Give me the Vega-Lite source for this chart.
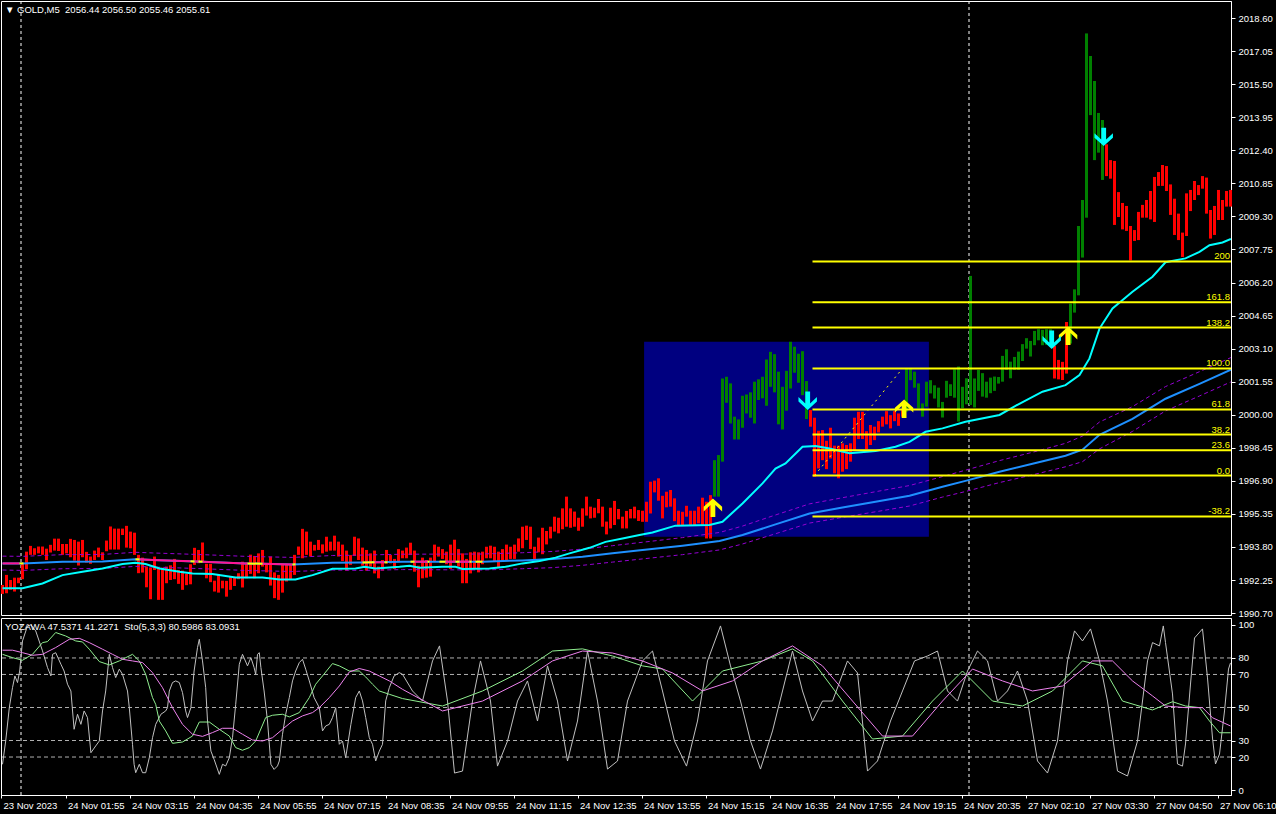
{
"$schema":"https://vega.github.io/schema/vega-lite/v6.json",
"background":"#000000",
"padding":{"left":0,"top":0,"right":46,"bottom":20},
"spacing":3,
"bounds":"flush",
"config":{"view":{"stroke":"#FFFFFF","strokeWidth":1},"font":"Liberation Sans","axis":{"labelFont":"Liberation Sans","labelColor":"#FFFFFF","labelFontSize":9.5,"domainColor":"#FFFFFF","tickColor":"#FFFFFF","grid":false}},
"datasets":{
"bars":[
{"i":0,"lo":1991.6,"hi":1992.02,"d":"dn"},{"i":1,"lo":1991.63,"hi":1992.49,"d":"dn"},{"i":2,"lo":1991.79,"hi":1992.25,"d":"dn"},{"i":3,"lo":1991.71,"hi":1992.36,"d":"dn"},{"i":4,"lo":1992.1,"hi":1992.36,"d":"dn"},{"i":5,"lo":1992.29,"hi":1993.04,"d":"dn"},{"i":6,"lo":1992.76,"hi":1993.58,"d":"dn"},{"i":7,"lo":1993.43,"hi":1993.85,"d":"dn"},{"i":8,"lo":1993.43,"hi":1993.74,"d":"dn"},{"i":9,"lo":1993.5,"hi":1993.82,"d":"dn"},
{"i":10,"lo":1993.43,"hi":1993.82,"d":"dn"},{"i":11,"lo":1993.19,"hi":1993.72,"d":"dn"},{"i":12,"lo":1993.54,"hi":1993.9,"d":"dn"},{"i":13,"lo":1993.63,"hi":1994.19,"d":"dn"},{"i":14,"lo":1993.61,"hi":1994.19,"d":"dn"},{"i":15,"lo":1993.43,"hi":1993.94,"d":"dn"},{"i":16,"lo":1993.5,"hi":1993.94,"d":"dn"},{"i":17,"lo":1993.32,"hi":1994.18,"d":"dn"},{"i":18,"lo":1993.16,"hi":1994.13,"d":"dn"},{"i":19,"lo":1992.93,"hi":1994.05,"d":"dn"},
{"i":20,"lo":1993.32,"hi":1994.13,"d":"dn"},{"i":21,"lo":1993.07,"hi":1993.57,"d":"dn"},{"i":22,"lo":1993.01,"hi":1993.35,"d":"dn"},{"i":23,"lo":1993.19,"hi":1993.63,"d":"dn"},{"i":24,"lo":1993.32,"hi":1993.77,"d":"dn"},{"i":25,"lo":1993.19,"hi":1993.55,"d":"dn"},{"i":26,"lo":1993.6,"hi":1994.1,"d":"dn"},{"i":27,"lo":1993.68,"hi":1994.76,"d":"dn"},{"i":28,"lo":1993.68,"hi":1994.66,"d":"dn"},{"i":29,"lo":1993.68,"hi":1994.66,"d":"dn"},
{"i":30,"lo":1994.36,"hi":1994.66,"d":"dn"},{"i":31,"lo":1993.77,"hi":1994.79,"d":"dn"},{"i":32,"lo":1993.74,"hi":1994.52,"d":"dn"},{"i":33,"lo":1993.43,"hi":1994.47,"d":"dn"},{"i":34,"lo":1992.57,"hi":1993.43,"d":"dn"},{"i":35,"lo":1992.6,"hi":1993.3,"d":"dn"},{"i":36,"lo":1991.91,"hi":1992.88,"d":"dn"},{"i":37,"lo":1991.35,"hi":1992.83,"d":"dn"},{"i":38,"lo":1992.72,"hi":1993.35,"d":"dn"},{"i":39,"lo":1991.32,"hi":1992.8,"d":"dn"},
{"i":40,"lo":1991.32,"hi":1992.83,"d":"dn"},{"i":41,"lo":1992.1,"hi":1992.88,"d":"dn"},{"i":42,"lo":1992.25,"hi":1992.94,"d":"dn"},{"i":43,"lo":1992.29,"hi":1993.24,"d":"dn"},{"i":44,"lo":1992.07,"hi":1992.72,"d":"dn"},{"i":45,"lo":1991.79,"hi":1992.69,"d":"dn"},{"i":46,"lo":1992.01,"hi":1992.54,"d":"dn"},{"i":47,"lo":1992.05,"hi":1992.99,"d":"dn"},{"i":48,"lo":1992.96,"hi":1993.76,"d":"dn"},{"i":49,"lo":1993.04,"hi":1993.66,"d":"dn"},
{"i":50,"lo":1993.12,"hi":1994.01,"d":"dn"},{"i":51,"lo":1992.33,"hi":1993.01,"d":"dn"},{"i":52,"lo":1992.15,"hi":1993.01,"d":"dn"},{"i":53,"lo":1991.71,"hi":1992.22,"d":"dn"},{"i":54,"lo":1991.66,"hi":1992.49,"d":"dn"},{"i":55,"lo":1991.86,"hi":1992.22,"d":"dn"},{"i":56,"lo":1991.47,"hi":1992.21,"d":"dn"},{"i":57,"lo":1991.79,"hi":1992.41,"d":"dn"},{"i":58,"lo":1991.97,"hi":1992.38,"d":"dn"},{"i":59,"lo":1992.29,"hi":1992.57,"d":"dn"},
{"i":60,"lo":1991.9,"hi":1993.11,"d":"dn"},{"i":61,"lo":1992.33,"hi":1993.07,"d":"dn"},{"i":62,"lo":1992.54,"hi":1993.44,"d":"dn"},{"i":63,"lo":1992.33,"hi":1993.38,"d":"dn"},{"i":64,"lo":1992.57,"hi":1993.5,"d":"dn"},{"i":65,"lo":1992.88,"hi":1993.66,"d":"dn"},{"i":66,"lo":1992.61,"hi":1993.01,"d":"dn"},{"i":67,"lo":1991.99,"hi":1993.35,"d":"dn"},{"i":68,"lo":1991.4,"hi":1992.61,"d":"dn"},{"i":69,"lo":1991.32,"hi":1992.49,"d":"dn"},
{"i":70,"lo":1991.66,"hi":1993.01,"d":"dn"},{"i":71,"lo":1992.18,"hi":1993.01,"d":"dn"},{"i":72,"lo":1992.29,"hi":1993.01,"d":"dn"},{"i":73,"lo":1992.49,"hi":1993.43,"d":"dn"},{"i":74,"lo":1993.43,"hi":1993.82,"d":"dn"},{"i":75,"lo":1993.27,"hi":1994.65,"d":"dn"},{"i":76,"lo":1993.43,"hi":1994.52,"d":"dn"},{"i":77,"lo":1993.35,"hi":1994.05,"d":"dn"},{"i":78,"lo":1993.63,"hi":1993.9,"d":"dn"},{"i":79,"lo":1993.66,"hi":1994.13,"d":"dn"},
{"i":80,"lo":1993.5,"hi":1993.92,"d":"dn"},{"i":81,"lo":1993.58,"hi":1994.28,"d":"dn"},{"i":82,"lo":1993.63,"hi":1994.05,"d":"dn"},{"i":83,"lo":1993.63,"hi":1994.33,"d":"dn"},{"i":84,"lo":1993.35,"hi":1994.05,"d":"dn"},{"i":85,"lo":1993.14,"hi":1993.91,"d":"dn"},{"i":86,"lo":1992.69,"hi":1993.63,"d":"dn"},{"i":87,"lo":1992.96,"hi":1993.42,"d":"dn"},{"i":88,"lo":1993.38,"hi":1994.28,"d":"dn"},{"i":89,"lo":1993.19,"hi":1994.2,"d":"dn"},
{"i":90,"lo":1992.92,"hi":1993.77,"d":"dn"},{"i":91,"lo":1992.69,"hi":1993.66,"d":"dn"},{"i":92,"lo":1992.88,"hi":1993.5,"d":"dn"},{"i":93,"lo":1992.56,"hi":1993.63,"d":"dn"},{"i":94,"lo":1992.33,"hi":1992.88,"d":"dn"},{"i":95,"lo":1992.69,"hi":1993.19,"d":"dn"},{"i":96,"lo":1993.03,"hi":1993.66,"d":"dn"},{"i":97,"lo":1993.03,"hi":1993.42,"d":"dn"},{"i":98,"lo":1992.77,"hi":1993.24,"d":"dn"},{"i":99,"lo":1993.14,"hi":1993.7,"d":"dn"},
{"i":100,"lo":1993.27,"hi":1993.63,"d":"dn"},{"i":101,"lo":1993.27,"hi":1993.77,"d":"dn"},{"i":102,"lo":1993.42,"hi":1994.0,"d":"dn"},{"i":103,"lo":1992.64,"hi":1993.63,"d":"dn"},{"i":104,"lo":1991.91,"hi":1992.92,"d":"dn"},{"i":105,"lo":1992.33,"hi":1993.3,"d":"dn"},{"i":106,"lo":1992.36,"hi":1993.19,"d":"dn"},{"i":107,"lo":1992.41,"hi":1993.3,"d":"dn"},{"i":108,"lo":1993.14,"hi":1993.91,"d":"dn"},{"i":109,"lo":1993.35,"hi":1993.81,"d":"dn"},
{"i":110,"lo":1993.24,"hi":1993.7,"d":"dn"},{"i":111,"lo":1992.99,"hi":1993.58,"d":"dn"},{"i":112,"lo":1992.77,"hi":1993.91,"d":"dn"},{"i":113,"lo":1993.14,"hi":1994.14,"d":"dn"},{"i":114,"lo":1992.88,"hi":1993.7,"d":"dn"},{"i":115,"lo":1992.1,"hi":1993.5,"d":"dn"},{"i":116,"lo":1992.1,"hi":1993.24,"d":"dn"},{"i":117,"lo":1992.56,"hi":1993.55,"d":"dn"},{"i":118,"lo":1992.77,"hi":1993.58,"d":"dn"},{"i":119,"lo":1992.61,"hi":1993.55,"d":"dn"},
{"i":120,"lo":1992.99,"hi":1993.58,"d":"dn"},{"i":121,"lo":1993.27,"hi":1993.81,"d":"dn"},{"i":122,"lo":1993.27,"hi":1993.86,"d":"dn"},{"i":123,"lo":1993.11,"hi":1993.81,"d":"dn"},{"i":124,"lo":1992.85,"hi":1993.58,"d":"dn"},{"i":125,"lo":1993.11,"hi":1993.7,"d":"dn"},{"i":126,"lo":1993.14,"hi":1993.91,"d":"dn"},{"i":127,"lo":1993.24,"hi":1993.81,"d":"dn"},{"i":128,"lo":1993.24,"hi":1993.91,"d":"dn"},{"i":129,"lo":1993.58,"hi":1994.2,"d":"dn"},
{"i":130,"lo":1993.74,"hi":1994.75,"d":"dn"},{"i":131,"lo":1994.13,"hi":1994.8,"d":"dn"},{"i":132,"lo":1993.7,"hi":1994.75,"d":"dn"},{"i":133,"lo":1993.24,"hi":1993.81,"d":"dn"},{"i":134,"lo":1993.55,"hi":1994.24,"d":"dn"},{"i":135,"lo":1993.46,"hi":1994.7,"d":"dn"},{"i":136,"lo":1993.92,"hi":1994.55,"d":"dn"},{"i":137,"lo":1994.2,"hi":1994.75,"d":"dn"},{"i":138,"lo":1994.52,"hi":1995.22,"d":"dn"},{"i":139,"lo":1994.44,"hi":1995.17,"d":"dn"},
{"i":140,"lo":1994.63,"hi":1995.61,"d":"dn"},{"i":141,"lo":1994.75,"hi":1996.16,"d":"dn"},{"i":142,"lo":1994.7,"hi":1995.61,"d":"dn"},{"i":143,"lo":1994.75,"hi":1995.46,"d":"dn"},{"i":144,"lo":1994.56,"hi":1995.17,"d":"dn"},{"i":145,"lo":1994.75,"hi":1995.61,"d":"dn"},{"i":146,"lo":1995.27,"hi":1996.16,"d":"dn"},{"i":147,"lo":1995.14,"hi":1995.69,"d":"dn"},{"i":148,"lo":1995.17,"hi":1995.64,"d":"dn"},{"i":149,"lo":1995.38,"hi":1996.05,"d":"dn"},
{"i":150,"lo":1994.75,"hi":1995.69,"d":"dn"},{"i":151,"lo":1994.39,"hi":1994.99,"d":"dn"},{"i":152,"lo":1994.67,"hi":1995.64,"d":"dn"},{"i":153,"lo":1994.83,"hi":1995.96,"d":"dn"},{"i":154,"lo":1995.1,"hi":1995.58,"d":"dn"},{"i":155,"lo":1994.67,"hi":1995.22,"d":"dn"},{"i":156,"lo":1994.67,"hi":1995.49,"d":"dn"},{"i":157,"lo":1995.14,"hi":1995.58,"d":"dn"},{"i":158,"lo":1995.14,"hi":1995.69,"d":"dn"},{"i":159,"lo":1995.02,"hi":1995.53,"d":"dn"},
{"i":160,"lo":1994.98,"hi":1995.5,"d":"dn"},{"i":161,"lo":1994.98,"hi":1995.92,"d":"dn"},{"i":162,"lo":1995.37,"hi":1996.86,"d":"dn"},{"i":163,"lo":1996.36,"hi":1996.91,"d":"dn"},{"i":164,"lo":1995.97,"hi":1997.02,"d":"dn"},{"i":165,"lo":1995.14,"hi":1996.2,"d":"dn"},{"i":166,"lo":1995.66,"hi":1996.39,"d":"dn"},{"i":167,"lo":1995.69,"hi":1996.47,"d":"dn"},{"i":168,"lo":1995.01,"hi":1996.08,"d":"dn"},{"i":169,"lo":1994.8,"hi":1995.5,"d":"dn"},
{"i":170,"lo":1994.83,"hi":1995.45,"d":"dn"},{"i":171,"lo":1995.22,"hi":1995.73,"d":"dn"},{"i":172,"lo":1994.83,"hi":1995.5,"d":"dn"},{"i":173,"lo":1994.83,"hi":1995.5,"d":"dn"},{"i":174,"lo":1994.91,"hi":1995.69,"d":"dn"},{"i":175,"lo":1994.83,"hi":1996.11,"d":"dn"},{"i":176,"lo":1994.2,"hi":1995.92,"d":"dn"},{"i":177,"lo":1994.2,"hi":1996.23,"d":"dn"},{"i":178,"lo":1996.16,"hi":1997.87,"d":"up"},{"i":179,"lo":1996.16,"hi":1998.11,"d":"up"},
{"i":180,"lo":1997.8,"hi":2001.7,"d":"up"},{"i":181,"lo":2000.56,"hi":2001.78,"d":"up"},{"i":182,"lo":1999.59,"hi":2001.47,"d":"up"},{"i":183,"lo":1998.84,"hi":1999.91,"d":"up"},{"i":184,"lo":1998.84,"hi":1999.78,"d":"up"},{"i":185,"lo":1999.39,"hi":2000.89,"d":"up"},{"i":186,"lo":2000.06,"hi":2000.95,"d":"up"},{"i":187,"lo":1999.86,"hi":2001.05,"d":"up"},{"i":188,"lo":1999.59,"hi":2001.55,"d":"up"},{"i":189,"lo":2000.69,"hi":2001.66,"d":"up"},
{"i":190,"lo":2000.77,"hi":2001.78,"d":"up"},{"i":191,"lo":2000.42,"hi":2002.59,"d":"up"},{"i":192,"lo":2001.31,"hi":2002.95,"d":"up"},{"i":193,"lo":2001.05,"hi":2002.84,"d":"up"},{"i":194,"lo":1999.55,"hi":2002.02,"d":"up"},{"i":195,"lo":1999.31,"hi":2001.31,"d":"up"},{"i":196,"lo":2000.19,"hi":2002.06,"d":"up"},{"i":197,"lo":2001.23,"hi":2003.42,"d":"up"},{"i":198,"lo":2001.97,"hi":2003.19,"d":"up"},{"i":199,"lo":2001.5,"hi":2002.86,"d":"up"},
{"i":200,"lo":2000.92,"hi":2002.98,"d":"up"},{"i":201,"lo":1999.8,"hi":2001.58,"d":"up"},{"i":202,"lo":1999.44,"hi":2000.22,"d":"dn"},{"i":203,"lo":1997.09,"hi":1999.86,"d":"dn"},{"i":204,"lo":1997.48,"hi":1999.25,"d":"dn"},{"i":205,"lo":1997.87,"hi":1999.28,"d":"dn"},{"i":206,"lo":1997.45,"hi":1998.78,"d":"dn"},{"i":207,"lo":1997.95,"hi":1999.39,"d":"dn"},{"i":208,"lo":1997.25,"hi":1998.55,"d":"dn"},{"i":209,"lo":1997.02,"hi":1998.55,"d":"dn"},
{"i":210,"lo":1997.33,"hi":1998.66,"d":"dn"},{"i":211,"lo":1997.45,"hi":1998.58,"d":"dn"},{"i":212,"lo":1997.8,"hi":1998.66,"d":"dn"},{"i":213,"lo":1998.34,"hi":1999.86,"d":"dn"},{"i":214,"lo":1998.86,"hi":2000.14,"d":"dn"},{"i":215,"lo":1998.86,"hi":2000.14,"d":"dn"},{"i":216,"lo":1998.39,"hi":1999.23,"d":"dn"},{"i":217,"lo":1998.58,"hi":1999.52,"d":"dn"},{"i":218,"lo":1998.81,"hi":1999.44,"d":"dn"},{"i":219,"lo":1999.17,"hi":1999.7,"d":"dn"},
{"i":220,"lo":1999.44,"hi":1999.91,"d":"dn"},{"i":221,"lo":1999.55,"hi":2000.17,"d":"dn"},{"i":222,"lo":1999.36,"hi":1999.98,"d":"dn"},{"i":223,"lo":1999.7,"hi":2000.17,"d":"dn"},{"i":224,"lo":1999.48,"hi":2000.06,"d":"dn"},{"i":225,"lo":1999.91,"hi":2000.27,"d":"dn"},{"i":226,"lo":2000.14,"hi":2002.17,"d":"up"},{"i":227,"lo":2001.62,"hi":2002.17,"d":"up"},{"i":228,"lo":2001.27,"hi":2002.02,"d":"up"},{"i":229,"lo":2000.3,"hi":2001.47,"d":"up"},
{"i":230,"lo":1999.91,"hi":2000.53,"d":"up"},{"i":231,"lo":2000.38,"hi":2001.55,"d":"up"},{"i":232,"lo":2001.0,"hi":2001.62,"d":"up"},{"i":233,"lo":2000.76,"hi":2001.38,"d":"up"},{"i":234,"lo":2000.34,"hi":2001.27,"d":"up"},{"i":235,"lo":1999.87,"hi":2000.6,"d":"up"},{"i":236,"lo":2000.8,"hi":2001.59,"d":"up"},{"i":237,"lo":2000.88,"hi":2001.43,"d":"up"},{"i":238,"lo":2000.8,"hi":2002.13,"d":"up"},{"i":239,"lo":1999.68,"hi":2002.26,"d":"up"},
{"i":240,"lo":2000.31,"hi":2001.31,"d":"up"},{"i":241,"lo":2000.49,"hi":2001.71,"d":"up"},{"i":242,"lo":2000.46,"hi":2006.51,"d":"up"},{"i":243,"lo":2000.34,"hi":2001.7,"d":"up"},{"i":244,"lo":2001.12,"hi":2002.1,"d":"up"},{"i":245,"lo":2000.85,"hi":2001.95,"d":"up"},{"i":246,"lo":2000.8,"hi":2001.55,"d":"up"},{"i":247,"lo":2001.01,"hi":2001.74,"d":"up"},{"i":248,"lo":2001.12,"hi":2001.79,"d":"up"},{"i":249,"lo":2001.46,"hi":2001.77,"d":"up"},
{"i":250,"lo":2001.55,"hi":2002.76,"d":"up"},{"i":251,"lo":2002.1,"hi":2003.07,"d":"up"},{"i":252,"lo":2001.71,"hi":2002.49,"d":"up"},{"i":253,"lo":2002.1,"hi":2002.71,"d":"up"},{"i":254,"lo":2002.1,"hi":2002.96,"d":"up"},{"i":255,"lo":2002.52,"hi":2003.31,"d":"up"},{"i":256,"lo":2003.1,"hi":2003.59,"d":"up"},{"i":257,"lo":2002.73,"hi":2003.46,"d":"up"},{"i":258,"lo":2003.26,"hi":2003.93,"d":"up"},{"i":259,"lo":2003.49,"hi":2004.01,"d":"up"},
{"i":260,"lo":2003.26,"hi":2003.98,"d":"up"},{"i":261,"lo":2003.28,"hi":2004.01,"d":"up"},{"i":262,"lo":2003.49,"hi":2004.01,"d":"up"},{"i":263,"lo":2001.7,"hi":2003.23,"d":"dn"},{"i":264,"lo":2001.66,"hi":2002.57,"d":"dn"},{"i":265,"lo":2001.63,"hi":2002.48,"d":"dn"},{"i":266,"lo":2001.93,"hi":2004.35,"d":"dn"},{"i":267,"lo":2003.34,"hi":2005.21,"d":"up"},{"i":268,"lo":2004.79,"hi":2005.88,"d":"up"},{"i":269,"lo":2005.6,"hi":2008.85,"d":"up"},
{"i":270,"lo":2007.37,"hi":2010.07,"d":"up"},{"i":271,"lo":2009.24,"hi":2017.88,"d":"up"},{"i":272,"lo":2014.05,"hi":2016.82,"d":"up"},{"i":273,"lo":2011.94,"hi":2015.65,"d":"up"},{"i":274,"lo":2012.29,"hi":2014.15,"d":"up"},{"i":275,"lo":2011.01,"hi":2013.82,"d":"up"},{"i":276,"lo":2011.19,"hi":2012.68,"d":"dn"},{"i":277,"lo":2011.07,"hi":2011.94,"d":"dn"},{"i":278,"lo":2008.9,"hi":2011.9,"d":"dn"},{"i":279,"lo":2009.27,"hi":2010.44,"d":"dn"},
{"i":280,"lo":2008.69,"hi":2009.93,"d":"dn"},{"i":281,"lo":2008.62,"hi":2009.79,"d":"dn"},{"i":282,"lo":2007.24,"hi":2008.85,"d":"dn"},{"i":283,"lo":2008.15,"hi":2008.66,"d":"dn"},{"i":284,"lo":2008.19,"hi":2009.51,"d":"dn"},{"i":285,"lo":2009.24,"hi":2009.84,"d":"dn"},{"i":286,"lo":2009.24,"hi":2010.07,"d":"dn"},{"i":287,"lo":2009.16,"hi":2010.49,"d":"dn"},{"i":288,"lo":2009.04,"hi":2011.15,"d":"dn"},{"i":289,"lo":2010.73,"hi":2011.38,"d":"dn"},
{"i":290,"lo":2010.73,"hi":2011.71,"d":"dn"},{"i":291,"lo":2010.49,"hi":2011.66,"d":"dn"},{"i":292,"lo":2009.37,"hi":2010.8,"d":"dn"},{"i":293,"lo":2008.43,"hi":2010.13,"d":"dn"},{"i":294,"lo":2008.19,"hi":2009.43,"d":"dn"},{"i":295,"lo":2007.4,"hi":2008.54,"d":"dn"},{"i":296,"lo":2008.38,"hi":2010.38,"d":"dn"},{"i":297,"lo":2009.55,"hi":2010.54,"d":"dn"},{"i":298,"lo":2010.07,"hi":2010.96,"d":"dn"},{"i":299,"lo":2010.3,"hi":2010.77,"d":"dn"},
{"i":300,"lo":2010.6,"hi":2011.19,"d":"dn"},{"i":301,"lo":2009.43,"hi":2011.12,"d":"dn"},{"i":302,"lo":2008.26,"hi":2009.6,"d":"dn"},{"i":303,"lo":2008.43,"hi":2009.79,"d":"dn"},{"i":304,"lo":2009.13,"hi":2010.54,"d":"dn"},{"i":305,"lo":2009.13,"hi":2010.07,"d":"dn"},{"i":306,"lo":2009.76,"hi":2010.49,"d":"dn"},{"i":307,"lo":2009.76,"hi":2010.54,"d":"dn"}
],
"fast":[
{"i":0,"p":1991.86},{"i":5,"p":1991.86},{"i":10,"p":1992.09},{"i":15,"p":1992.48},{"i":20,"p":1992.64},{"i":25,"p":1992.79},{"i":30,"p":1993.0},{"i":33.25,"p":1993.06},{"i":35.75,"p":1993.0},{"i":39.25,"p":1992.79},{"i":44.25,"p":1992.64},{"i":47.5,"p":1992.56},{"i":52.5,"p":1992.53},{"i":58.25,"p":1992.37},{"i":65,"p":1992.37},{"i":69.25,"p":1992.28},{"i":73.25,"p":1992.28},{"i":77.5,"p":1992.48},{"i":82.5,"p":1992.78},{"i":88.25,"p":1992.79},{"i":90.5,"p":1992.87},{"i":93.25,"p":1992.79},{"i":99.25,"p":1992.87},{"i":101.75,"p":1992.92},{"i":104.25,"p":1992.83},{"i":110,"p":1992.87},{"i":113.25,"p":1992.87},{"i":115,"p":1992.77},{"i":121.75,"p":1992.79},{"i":125.75,"p":1992.87},{"i":130,"p":1993.03},{"i":134.25,"p":1993.14},{"i":138.25,"p":1993.3},{"i":141.75,"p":1993.5},{"i":146.75,"p":1993.76},{"i":150.75,"p":1994.04},{"i":155,"p":1994.2},{"i":159.25,"p":1994.36},{"i":162.5,"p":1994.48},{"i":168.25,"p":1994.8},{"i":176.75,"p":1994.83},{"i":180,"p":1994.98},{"i":185,"p":1995.84},{"i":190,"p":1996.78},{"i":193.25,"p":1997.48},{"i":195.75,"p":1997.72},{"i":200,"p":1998.5},{"i":203.25,"p":1998.53},{"i":206.75,"p":1998.42},{"i":211.75,"p":1998.19},{"i":218.25,"p":1998.3},{"i":223.25,"p":1998.5},{"i":226.75,"p":1998.73},{"i":230.75,"p":1999.2},{"i":235,"p":1999.36},{"i":240.75,"p":1999.67},{"i":249.25,"p":1999.99},{"i":253.25,"p":2000.42},{"i":260,"p":2001.08},{"i":265.75,"p":2001.39},{"i":269.25,"p":2001.86},{"i":271.75,"p":2002.64},{"i":274.25,"p":2004.04},{"i":277.5,"p":2004.98},{"i":282.5,"p":2005.77},{"i":287.5,"p":2006.47},{"i":290.75,"p":2007.15},{"i":295.75,"p":2007.33},{"i":299.25,"p":2007.64},{"i":301.75,"p":2007.95},{"i":305,"p":2008.08},{"i":307.1,"p":2008.24}
],
"slow":[
{"i":0,"p":1993.03,"up":1993.37,"lo":1992.72},{"i":5,"p":1993.03,"up":1993.36,"lo":1992.7},{"i":15,"p":1993.11,"up":1993.44,"lo":1992.78},{"i":25,"p":1993.12,"up":1993.45,"lo":1992.79},{"i":33.25,"p":1993.22,"up":1993.55,"lo":1992.89},{"i":37.5,"p":1993.19,"up":1993.52,"lo":1992.86},{"i":50,"p":1993.11,"up":1993.44,"lo":1992.78},{"i":60.75,"p":1993.03,"up":1993.36,"lo":1992.7},{"i":72.5,"p":1992.98,"up":1993.31,"lo":1992.65},{"i":82.5,"p":1993.06,"up":1993.4,"lo":1992.72},{"i":90,"p":1993.07,"up":1993.42,"lo":1992.7},{"i":100,"p":1993.11,"up":1993.46,"lo":1992.74},{"i":120,"p":1993.11,"up":1993.47,"lo":1992.72},{"i":130,"p":1993.17,"up":1993.53,"lo":1992.78},{"i":137.5,"p":1993.23,"up":1993.59,"lo":1992.83},{"i":145,"p":1993.34,"up":1993.7,"lo":1992.94},{"i":152.5,"p":1993.5,"up":1993.86,"lo":1993.09},{"i":160,"p":1993.66,"up":1994.02,"lo":1993.24},{"i":170,"p":1993.86,"up":1994.24,"lo":1993.44},{"i":179.25,"p":1994.08,"up":1994.48,"lo":1993.66},{"i":185,"p":1994.36,"up":1994.78,"lo":1993.94},{"i":193.25,"p":1994.86,"up":1995.3,"lo":1994.42},{"i":201.75,"p":1995.37,"up":1995.82,"lo":1994.92},{"i":210,"p":1995.65,"up":1996.11,"lo":1995.19},{"i":218.25,"p":1995.92,"up":1996.39,"lo":1995.45},{"i":226.75,"p":1996.2,"up":1996.68,"lo":1995.72},{"i":235,"p":1996.62,"up":1997.1,"lo":1996.14},{"i":240.75,"p":1996.9,"up":1997.4,"lo":1996.4},{"i":249.25,"p":1997.33,"up":1997.85,"lo":1996.82},{"i":257.5,"p":1997.7,"up":1998.24,"lo":1997.18},{"i":265.75,"p":1998.08,"up":1998.66,"lo":1997.56},{"i":270,"p":1998.36,"up":1999.0,"lo":1997.8},{"i":274.25,"p":1999.06,"up":1999.66,"lo":1998.4},{"i":282.5,"p":1999.81,"up":2000.38,"lo":1999.22},{"i":290.75,"p":2000.75,"up":2001.32,"lo":2000.18},{"i":299.25,"p":2001.45,"up":2002.02,"lo":2000.88},{"i":307.1,"p":2002.11,"up":2002.68,"lo":2001.54}
],
"slowc":[
{"seg":"s1","c":"p","i":0,"p":1993.03},{"seg":"s1","c":"p","i":4.25,"p":1993.03},
{"seg":"s2","c":"y","i":4.25,"p":1993.03},{"seg":"s2","c":"y","i":5.25,"p":1993.03},
{"seg":"s4","c":"y","i":33.25,"p":1993.22},{"seg":"s4","c":"y","i":34.25,"p":1993.22},
{"seg":"s5","c":"p","i":34.25,"p":1993.22},{"seg":"s5","c":"p","i":37.5,"p":1993.19},{"seg":"s5","c":"p","i":47,"p":1993.13},
{"seg":"s6","c":"y","i":47,"p":1993.13},{"seg":"s6","c":"y","i":48,"p":1993.12},
{"seg":"s7","c":"p","i":48,"p":1993.12},{"seg":"s7","c":"p","i":49,"p":1993.12},
{"seg":"s8","c":"y","i":49,"p":1993.12},{"seg":"s8","c":"y","i":50,"p":1993.11},
{"seg":"s9","c":"p","i":50,"p":1993.11},{"seg":"s9","c":"p","i":60.75,"p":1993.03},{"seg":"s9","c":"p","i":61.25,"p":1993.03},
{"seg":"s10","c":"y","i":61.25,"p":1993.03},{"seg":"s10","c":"y","i":65,"p":1993.01},
{"seg":"s11","c":"p","i":65,"p":1993.01},{"seg":"s11","c":"p","i":72.5,"p":1992.98},
{"seg":"s12","c":"y","i":72.5,"p":1992.98},{"seg":"s12","c":"y","i":73.25,"p":1992.99},
{"seg":"s14","c":"y","i":90,"p":1993.07},{"seg":"s14","c":"y","i":93,"p":1993.08},
{"seg":"s15","c":"p","i":93,"p":1993.08},{"seg":"s15","c":"p","i":95.5,"p":1993.08},
{"seg":"s16","c":"y","i":95.5,"p":1993.08},{"seg":"s16","c":"y","i":96.25,"p":1993.08},
{"seg":"s18","c":"y","i":102,"p":1993.11},{"seg":"s18","c":"y","i":103,"p":1993.11},
{"seg":"s19","c":"p","i":103,"p":1993.11},{"seg":"s19","c":"p","i":106.25,"p":1993.11},
{"seg":"s20","c":"y","i":106.25,"p":1993.11},{"seg":"s20","c":"y","i":106.75,"p":1993.11},
{"seg":"s22","c":"y","i":109.25,"p":1993.11},{"seg":"s22","c":"y","i":110.75,"p":1993.11},
{"seg":"s23","c":"p","i":110.75,"p":1993.11},{"seg":"s23","c":"p","i":113.25,"p":1993.11},
{"seg":"s24","c":"y","i":113.25,"p":1993.11},{"seg":"s24","c":"y","i":114.25,"p":1993.11},
{"seg":"s25","c":"p","i":114.25,"p":1993.11},{"seg":"s25","c":"p","i":116.75,"p":1993.11},
{"seg":"s26","c":"y","i":116.75,"p":1993.11},{"seg":"s26","c":"y","i":117.25,"p":1993.11},
{"seg":"s28","c":"y","i":118.25,"p":1993.11},{"seg":"s28","c":"y","i":120,"p":1993.11}
],
"fib":[
{"lv":"200","p":2007.19,"i":202.5,"i1":307.125},{"lv":"161.8","p":2005.27,"i":202.5,"i1":307.125},{"lv":"138.2","p":2004.09,"i":202.5,"i1":307.125},{"lv":"100.0","p":2002.17,"i":202.5,"i1":307.125},{"lv":"61.8","p":2000.25,"i":202.5,"i1":307.125},{"lv":"38.2","p":1999.07,"i":202.5,"i1":307.125},{"lv":"23.6","p":1998.33,"i":202.5,"i1":307.125},{"lv":"0.0","p":1997.15,"i":202.5,"i1":307.125},{"lv":"-38.2","p":1995.23,"i":202.5,"i1":307.125}
],
"arrows":[
{"i":177.6,"p":1995.64,"t":"up"},{"i":201.3,"p":2000.66,"t":"dn"},{"i":225.4,"p":2000.28,"t":"up"},{"i":262.3,"p":2003.52,"t":"dn"},{"i":266.4,"p":2003.7,"t":"up"},{"i":275.3,"p":2013.03,"t":"dn"}
],
"days":[{"i":4.625},{"i":241.625}],
"levels":[{"lv":20},{"lv":30},{"lv":50},{"lv":70},{"lv":80}],
"osc":[
{"s":"g","i":0,"v":15.6},{"s":"g","i":0.8,"v":29.7},{"s":"g","i":1.7,"v":49.9},{"s":"g","i":2.5,"v":62},{"s":"g","i":3.1,"v":69.1},{"s":"g","i":3.75,"v":65.1},{"s":"g","i":4.3,"v":72.1},{"s":"g","i":5,"v":90.3},{"s":"g","i":6.25,"v":99.4},{"s":"g","i":7.1,"v":100},{"s":"g","i":8.3,"v":96.4},{"s":"g","i":10,"v":84.3},{"s":"g","i":11.25,"v":74.2},{"s":"g","i":12.1,"v":69.1},{"s":"g","i":12.5,"v":82.2},{"s":"g","i":13.3,"v":83.2},{"s":"g","i":14.6,"v":76.2},{"s":"g","i":15.4,"v":72.1},{"s":"g","i":16.25,"v":64.1},{"s":"g","i":17.1,"v":60},{"s":"g","i":17.9,"v":36.8},{"s":"g","i":18.75,"v":45.9},{"s":"g","i":19.6,"v":39.8},{"s":"g","i":20.4,"v":47.9},{"s":"g","i":21.25,"v":43.9},{"s":"g","i":22.1,"v":22.6},{"s":"g","i":23.3,"v":26.7},{"s":"g","i":24.2,"v":29.7},{"s":"g","i":25,"v":47.9},{"s":"g","i":25.8,"v":60},{"s":"g","i":26.7,"v":82.2},{"s":"g","i":27.5,"v":74.2},{"s":"g","i":28.3,"v":68.1},{"s":"g","i":29.2,"v":73.2},{"s":"g","i":30,"v":70.1},{"s":"g","i":31.25,"v":60},{"s":"g","i":31.7,"v":49.9},{"s":"g","i":32.5,"v":27.7},{"s":"g","i":32.9,"v":15.6},{"s":"g","i":33.3,"v":10.5},{"s":"g","i":34.2,"v":15.6},{"s":"g","i":35,"v":10.5},{"s":"g","i":35.8,"v":10.5},{"s":"g","i":36.7,"v":19.6},{"s":"g","i":37.5,"v":31.7},{"s":"g","i":38.3,"v":39.8},{"s":"g","i":39.6,"v":45.9},{"s":"g","i":40.8,"v":47.9},{"s":"g","i":41.25,"v":49.9},{"s":"g","i":41.7,"v":60},{"s":"g","i":42.5,"v":65.1},{"s":"g","i":43.3,"v":66.1},{"s":"g","i":44.2,"v":65.1},{"s":"g","i":45,"v":59},{"s":"g","i":45.8,"v":47.9},{"s":"g","i":46.25,"v":43.9},{"s":"g","i":47.1,"v":49.9},{"s":"g","i":47.9,"v":72.1},{"s":"g","i":48.75,"v":86.3},{"s":"g","i":49.2,"v":91.3},{"s":"g","i":50,"v":78.2},{"s":"g","i":50.8,"v":62},{"s":"g","i":51.25,"v":41.8},{"s":"g","i":52.1,"v":23.6},{"s":"g","i":52.9,"v":18.6},{"s":"g","i":54.2,"v":9.5},{"s":"g","i":55,"v":15.6},{"s":"g","i":55.8,"v":14.6},{"s":"g","i":56.7,"v":19.6},{"s":"g","i":57.5,"v":31.7},{"s":"g","i":58.3,"v":51.9},{"s":"g","i":59.2,"v":76.2},{"s":"g","i":60,"v":82.2},{"s":"g","i":61.25,"v":75.2},{"s":"g","i":62.1,"v":80.2},{"s":"g","i":62.9,"v":74.2},{"s":"g","i":63.3,"v":70.1},{"s":"g","i":63.75,"v":82.2},{"s":"g","i":64.2,"v":83.2},{"s":"g","i":64.6,"v":74.2},{"s":"g","i":65.4,"v":60},{"s":"g","i":66.25,"v":41.8},{"s":"g","i":67.1,"v":15.6},{"s":"g","i":67.9,"v":12.5},{"s":"g","i":68.75,"v":14.6},{"s":"g","i":69.2,"v":17.6},{"s":"g","i":70,"v":33.8},{"s":"g","i":70.8,"v":45.9},{"s":"g","i":71.7,"v":56},{"s":"g","i":72.5,"v":66.1},{"s":"g","i":73.3,"v":72.1},{"s":"g","i":74.2,"v":77.2},{"s":"g","i":75,"v":79.2},{"s":"g","i":75.8,"v":73.2},{"s":"g","i":76.7,"v":66.1},{"s":"g","i":77.9,"v":56},{"s":"g","i":79.2,"v":49.9},{"s":"g","i":80,"v":35.8},{"s":"g","i":80.8,"v":38.8},{"s":"g","i":81.7,"v":39.8},{"s":"g","i":82.5,"v":43.9},{"s":"g","i":83.3,"v":49.9},{"s":"g","i":84.2,"v":27.7},{"s":"g","i":85,"v":29.7},{"s":"g","i":85.8,"v":19.6},{"s":"g","i":87.1,"v":39.8},{"s":"g","i":88.3,"v":56},{"s":"g","i":89.2,"v":60},{"s":"g","i":90,"v":54},{"s":"g","i":90.8,"v":43.9},{"s":"g","i":91.7,"v":31.7},{"s":"g","i":92.5,"v":27.7},{"s":"g","i":93.3,"v":17.6},{"s":"g","i":94.2,"v":23.6},{"s":"g","i":95,"v":27.7},{"s":"g","i":95.8,"v":54},{"s":"g","i":96.7,"v":62},{"s":"g","i":97.9,"v":69.1},{"s":"g","i":99.2,"v":71.1},{"s":"g","i":100,"v":70.1},
{"s":"g","i":102.5,"v":60},{"s":"g","i":105,"v":53.9},{"s":"g","i":107.5,"v":78.2},{"s":"g","i":109.25,"v":87.3},{"s":"g","i":111.25,"v":53.9},{"s":"g","i":113,"v":10.3},{"s":"g","i":115,"v":11.5},{"s":"g","i":117.5,"v":53.9},{"s":"g","i":119.5,"v":78.2},{"s":"g","i":122,"v":53.9},{"s":"g","i":123.75,"v":14.5},{"s":"g","i":126.25,"v":29.7},{"s":"g","i":128.75,"v":53.9},{"s":"g","i":131.25,"v":66.1},{"s":"g","i":133.75,"v":41.8},{"s":"g","i":136.25,"v":75.2},{"s":"g","i":138.75,"v":53.9},{"s":"g","i":141.25,"v":17.6},{"s":"g","i":143.75,"v":41.8},{"s":"g","i":146.25,"v":84.2},{"s":"g","i":148.75,"v":53.9},{"s":"g","i":151.25,"v":12.7},{"s":"g","i":153.75,"v":17.6},{"s":"g","i":156.25,"v":53.9},{"s":"g","i":160,"v":78.2},{"s":"g","i":162.5,"v":84.2},{"s":"g","i":165,"v":60},{"s":"g","i":168,"v":29.7},{"s":"g","i":171,"v":14.5},{"s":"g","i":173.75,"v":41.8},{"s":"g","i":176.25,"v":78.2},{"s":"g","i":179.5,"v":99.4},{"s":"g","i":182,"v":75.2},{"s":"g","i":184.5,"v":53.9},{"s":"g","i":187,"v":29.7},{"s":"g","i":189.5,"v":12.7},{"s":"g","i":192.5,"v":35.8},{"s":"g","i":195,"v":60},{"s":"g","i":197.5,"v":84.2},{"s":"g","i":200,"v":60},{"s":"g","i":202.5,"v":41.8},{"s":"g","i":205,"v":53.9},{"s":"g","i":207.5,"v":53.9},{"s":"g","i":211.25,"v":78.2},{"s":"g","i":213.75,"v":70.9},{"s":"g","i":216.25,"v":11.5},{"s":"g","i":218.75,"v":17.6},{"s":"g","i":222,"v":41.8},{"s":"g","i":225,"v":60},{"s":"g","i":228,"v":78.2},{"s":"g","i":231.25,"v":81.2},{"s":"g","i":233.75,"v":84.2},{"s":"g","i":236.25,"v":60},{"s":"g","i":238.75,"v":53.9},{"s":"g","i":241.25,"v":72.1},{"s":"g","i":243.75,"v":84.2},{"s":"g","i":246.25,"v":78.2},{"s":"g","i":248.75,"v":53.9},{"s":"g","i":251.25,"v":60},{"s":"g","i":253.75,"v":72.1},{"s":"g","i":256.25,"v":53.9},{"s":"g","i":258.75,"v":17.6},{"s":"g","i":261.25,"v":10.3},{"s":"g","i":263.75,"v":29.7},{"s":"g","i":266.25,"v":78.2},{"s":"g","i":268,"v":96.4},{"s":"g","i":270,"v":90.3},{"s":"g","i":272,"v":97.6},{"s":"g","i":274.25,"v":78.2},{"s":"g","i":276.25,"v":53.9},{"s":"g","i":278.75,"v":11.5},{"s":"g","i":281.25,"v":8.5},{"s":"g","i":283.75,"v":29.7},{"s":"g","i":286.25,"v":78.2},{"s":"g","i":287.5,"v":89.3},{"s":"g","i":289.25,"v":87.3},{"s":"g","i":290.2,"v":99.4},{"s":"g","i":290.75,"v":89.3},{"s":"g","i":292.5,"v":58.2},{"s":"g","i":293.75,"v":15.8},{"s":"g","i":295,"v":14.5},{"s":"g","i":295.75,"v":27.9},{"s":"g","i":297,"v":64.2},{"s":"g","i":298,"v":92.1},{"s":"g","i":300,"v":97.6},{"s":"g","i":301.25,"v":67.9},{"s":"g","i":302.5,"v":31.5},{"s":"g","i":303.25,"v":15.8},{"s":"g","i":304.25,"v":21.8},{"s":"g","i":305.5,"v":47.9},{"s":"g","i":306.5,"v":73.3},{"s":"g","i":307,"v":77},
{"s":"n","i":0,"v":82.2},{"s":"n","i":2.5,"v":80.2},{"s":"n","i":5,"v":78.6},{"s":"n","i":7.5,"v":82.2},{"s":"n","i":10,"v":89.3},{"s":"n","i":11.25,"v":89.9},{"s":"n","i":13.3,"v":95.4},{"s":"n","i":15.8,"v":93.3},{"s":"n","i":18.3,"v":90.3},{"s":"n","i":20,"v":89.7},{"s":"n","i":21.7,"v":85.3},{"s":"n","i":24.2,"v":77.8},{"s":"n","i":26.7,"v":75.8},{"s":"n","i":29.2,"v":78.2},{"s":"n","i":32.5,"v":82.2},{"s":"n","i":34.2,"v":78.2},{"s":"n","i":35.8,"v":70.1},{"s":"n","i":37.5,"v":56},{"s":"n","i":38.3,"v":51.9},{"s":"n","i":39.2,"v":41.8},{"s":"n","i":40.8,"v":35.8},{"s":"n","i":42.5,"v":28.3},{"s":"n","i":45,"v":29.1},{"s":"n","i":47.5,"v":32.7},{"s":"n","i":49.2,"v":41.2},{"s":"n","i":51.7,"v":41.2},{"s":"n","i":54.2,"v":36.8},{"s":"n","i":56.7,"v":32.7},{"s":"n","i":58.3,"v":25.7},{"s":"n","i":60,"v":24.1},{"s":"n","i":61.7,"v":25.7},{"s":"n","i":63.3,"v":29.7},{"s":"n","i":65.8,"v":43.9},{"s":"n","i":67.5,"v":45.3},{"s":"n","i":70,"v":45.9},{"s":"n","i":71.7,"v":44.3},{"s":"n","i":74.2,"v":46.9},{"s":"n","i":76.7,"v":56},{"s":"n","i":78.3,"v":64.1},{"s":"n","i":80,"v":69.1},{"s":"n","i":82.5,"v":76.6},{"s":"n","i":84.2,"v":75.2},{"s":"n","i":86.7,"v":72.1},{"s":"n","i":89.2,"v":72.1},{"s":"n","i":90.8,"v":68.5},{"s":"n","i":92.5,"v":64.1},{"s":"n","i":94.2,"v":60},{"s":"n","i":96.7,"v":58},{"s":"n","i":100,"v":55.4},{"s":"n","i":110,"v":50.9},{"s":"n","i":120,"v":60},{"s":"n","i":130,"v":72.1},{"s":"n","i":137.5,"v":84.2},{"s":"n","i":145,"v":85.5},{"s":"n","i":152.5,"v":81.2},{"s":"n","i":160,"v":75.2},{"s":"n","i":165,"v":73.3},{"s":"n","i":172.5,"v":53.9},{"s":"n","i":180,"v":72.1},{"s":"n","i":190,"v":78.2},{"s":"n","i":197.5,"v":85.5},{"s":"n","i":202.5,"v":78.2},{"s":"n","i":210,"v":53.9},{"s":"n","i":217.5,"v":30.9},{"s":"n","i":225,"v":32.7},{"s":"n","i":232.5,"v":53.9},{"s":"n","i":240,"v":72.1},{"s":"n","i":247.5,"v":53.9},{"s":"n","i":255,"v":50.9},{"s":"n","i":262.5,"v":60},{"s":"n","i":270,"v":78.2},{"s":"n","i":275,"v":75.2},{"s":"n","i":280,"v":53.9},{"s":"n","i":287.5,"v":48.5},{"s":"n","i":292.5,"v":53.5},{"s":"n","i":295.75,"v":50.9},{"s":"n","i":299.25,"v":49.9},{"s":"n","i":301.75,"v":41.8},{"s":"n","i":304.25,"v":34.7},{"s":"n","i":307,"v":34.7},
{"s":"m","i":0,"v":84.7},{"s":"m","i":2.5,"v":84.7},{"s":"m","i":5,"v":83.2},{"s":"m","i":7.5,"v":81.6},{"s":"m","i":10,"v":82.2},{"s":"m","i":13.3,"v":86.3},{"s":"m","i":16.7,"v":91.3},{"s":"m","i":19.2,"v":91.9},{"s":"m","i":21.7,"v":89.3},{"s":"m","i":25,"v":85.3},{"s":"m","i":27.5,"v":82.2},{"s":"m","i":30,"v":79.2},{"s":"m","i":32.5,"v":78.2},{"s":"m","i":35,"v":77.2},{"s":"m","i":37.5,"v":71.1},{"s":"m","i":40,"v":62},{"s":"m","i":42.5,"v":49.9},{"s":"m","i":45,"v":39.8},{"s":"m","i":47.5,"v":33.8},{"s":"m","i":50,"v":32.5},{"s":"m","i":52.5,"v":34.8},{"s":"m","i":55,"v":37.4},{"s":"m","i":57.5,"v":37.4},{"s":"m","i":60,"v":33.8},{"s":"m","i":62.5,"v":30.3},{"s":"m","i":65,"v":29.7},{"s":"m","i":67.5,"v":31.7},{"s":"m","i":70,"v":36.8},{"s":"m","i":72.5,"v":41.8},{"s":"m","i":75,"v":44.9},{"s":"m","i":77.5,"v":46.9},{"s":"m","i":79.2,"v":49.9},{"s":"m","i":81.7,"v":56},{"s":"m","i":84.2,"v":63},{"s":"m","i":86.7,"v":71.5},{"s":"m","i":89.2,"v":73.6},{"s":"m","i":91.7,"v":72.1},{"s":"m","i":94.2,"v":69.1},{"s":"m","i":96.7,"v":66.1},{"s":"m","i":100,"v":61},{"s":"m","i":110,"v":47.9},{"s":"m","i":120,"v":53.9},{"s":"m","i":130,"v":66.1},{"s":"m","i":137.5,"v":78.2},{"s":"m","i":145,"v":84.2},{"s":"m","i":152.5,"v":83},{"s":"m","i":160,"v":78.2},{"s":"m","i":167.5,"v":70.9},{"s":"m","i":175,"v":60},{"s":"m","i":182.5,"v":66.1},{"s":"m","i":190,"v":78.2},{"s":"m","i":197.5,"v":87.3},{"s":"m","i":205,"v":75.2},{"s":"m","i":212.5,"v":53.9},{"s":"m","i":220,"v":32.7},{"s":"m","i":227.5,"v":32.7},{"s":"m","i":235,"v":53.9},{"s":"m","i":242.5,"v":73.3},{"s":"m","i":250,"v":66.1},{"s":"m","i":257.5,"v":60},{"s":"m","i":265,"v":63},{"s":"m","i":272.5,"v":78.2},{"s":"m","i":277.5,"v":78.2},{"s":"m","i":282.5,"v":66.1},{"s":"m","i":287.5,"v":57},{"s":"m","i":290.75,"v":50.9},{"s":"m","i":295.75,"v":49.9},{"s":"m","i":300,"v":49.9},{"s":"m","i":302.5,"v":43.8},{"s":"m","i":307,"v":38.8}
]
},
"vconcat":[
{
"width":1230,"height":614,
"encoding":{
 "x":{"field":"i","type":"quantitative","scale":{"domain":[-0.375,307.125],"nice":false,"zero":false},"axis":null},
 "y":{"field":"p","type":"quantitative","scale":{"domain":[1990.61,2019.4],"nice":false,"zero":false},
  "axis":{"orient":"right","values":[1990.7,1992.25,1993.8,1995.35,1996.9,1998.45,2000.0,2001.55,2003.1,2004.65,2006.2,2007.75,2009.3,2010.85,2012.4,2013.95,2015.5,2017.05,2018.6],"format":".2f","tickSize":4,"labelPadding":3,"title":null}}
},
"layer":[
{"data":{"values":[{"i":160.4,"i1":231.6,"p":1994.28,"p1":2003.42}]},"mark":{"type":"rect","color":"#000080"},
 "encoding":{"x2":{"field":"i1"},"y2":{"field":"p1"}}},
{"data":{"name":"days"},"mark":{"type":"rule","color":"#FFFFFF","strokeDash":[3,3],"strokeWidth":1},
 "encoding":{"y":null}},
{"data":{"name":"bars"},"transform":[{"filter":"datum.d == 'dn'"}],"mark":{"type":"rule","strokeWidth":3,"strokeCap":"butt","color":"#FF0000"},
 "encoding":{"y":{"field":"lo","type":"quantitative"},"y2":{"field":"hi"}}},
{"data":{"name":"bars"},"transform":[{"filter":"datum.d == 'up'"}],"mark":{"type":"rule","strokeWidth":3,"strokeCap":"butt","color":"#008000"},
 "encoding":{"y":{"field":"lo","type":"quantitative"},"y2":{"field":"hi"}}},
{"data":{"name":"slow"},"mark":{"type":"line","color":"#9400D3","strokeWidth":1,"strokeDash":[4,3],"clip":true},
 "encoding":{"y":{"field":"up","type":"quantitative"}}},
{"data":{"name":"slow"},"mark":{"type":"line","color":"#9400D3","strokeWidth":1,"strokeDash":[4,3],"clip":true},
 "encoding":{"y":{"field":"lo","type":"quantitative"}}},
{"data":{"name":"slow"},"mark":{"type":"line","color":"#1E90FF","strokeWidth":2,"clip":true},"encoding":{}},
{"data":{"name":"slowc"},"transform":[{"filter":"datum.c == 'p'"}],"mark":{"type":"line","color":"#FF1493","strokeWidth":2,"clip":true},
 "encoding":{"detail":{"field":"seg","type":"nominal"}}},
{"data":{"name":"slowc"},"transform":[{"filter":"datum.c == 'y'"}],"mark":{"type":"line","color":"#FFFF00","strokeWidth":2,"clip":true},
 "encoding":{"detail":{"field":"seg","type":"nominal"}}},
{"data":{"name":"fast"},"mark":{"type":"line","color":"#00FFFF","strokeWidth":2,"clip":true},"encoding":{}},
{"data":{"name":"fib"},"mark":{"type":"rule","color":"#FFFF00","strokeWidth":2},
 "encoding":{"x2":{"field":"i1"}}},
{"data":{"name":"fib"},"mark":{"type":"text","color":"#FFFF00","align":"right","baseline":"alphabetic","dy":-2,"dx":-1,"fontSize":9.5,"font":"Liberation Sans"},
 "encoding":{"x":{"field":"i1","type":"quantitative"},"text":{"field":"lv","type":"nominal"}}},
{"data":{"values":[{"i":203,"i1":225,"p":1997.15,"p1":2002.17}]},"mark":{"type":"rule","color":"#FFFF00","strokeWidth":1,"strokeDash":[2,4]},
 "encoding":{"x2":{"field":"i1"},"y2":{"field":"p1"}}},
{"data":{"name":"arrows"},"transform":[{"filter":"datum.t == 'up'"}],"mark":{"type":"point","filled":true,"opacity":1,"color":"#FFFF00","size":340,"shape":"M0,-1L1,-0.1L1,0.4L0.26,-0.3L0.26,1L-0.26,1L-0.26,-0.3L-1,0.4L-1,-0.1Z"},"encoding":{}},
{"data":{"name":"arrows"},"transform":[{"filter":"datum.t == 'dn'"}],"mark":{"type":"point","filled":true,"opacity":1,"color":"#00FFFF","size":340,"shape":"M0,1L1,0.1L1,-0.4L0.26,0.3L0.26,-1L-0.26,-1L-0.26,0.3L-1,-0.4L-1,0.1Z"},"encoding":{}},
{"data":{"values":[{"t":"▼ GOLD,M5 \u00a02056.44 2056.50 2055.46 2055.61","i":-0.375,"p":2019.4}]},"mark":{"type":"text","color":"#FFFFFF","align":"left","baseline":"top","dx":4,"dy":4,"fontSize":9.5,"font":"Liberation Sans"},
 "encoding":{"text":{"field":"t","type":"nominal"}}}
]
},
{
"width":1230,"height":177,
"encoding":{
 "x":{"field":"i","type":"quantitative","scale":{"domain":[-0.375,307.125],"nice":false,"zero":false},
  "axis":{"orient":"bottom","values":[-0.375,15.75,31.75,47.75,63.75,79.75,95.75,111.75,127.75,143.75,159.75,175.75,191.75,207.75,223.75,239.75,255.75,271.75,287.75,303.75],
   "labelExpr":"datum.value < 8 ? '23 Nov 2023' : datum.value < 24 ? '24 Nov 01:55' : datum.value < 40 ? '24 Nov 03:15' : datum.value < 56 ? '24 Nov 04:35' : datum.value < 72 ? '24 Nov 05:55' : datum.value < 88 ? '24 Nov 07:15' : datum.value < 104 ? '24 Nov 08:35' : datum.value < 120 ? '24 Nov 09:55' : datum.value < 136 ? '24 Nov 11:15' : datum.value < 152 ? '24 Nov 12:35' : datum.value < 168 ? '24 Nov 13:55' : datum.value < 184 ? '24 Nov 15:15' : datum.value < 200 ? '24 Nov 16:35' : datum.value < 216 ? '24 Nov 17:55' : datum.value < 232 ? '24 Nov 19:15' : datum.value < 248 ? '24 Nov 20:35' : datum.value < 264 ? '27 Nov 02:10' : datum.value < 280 ? '27 Nov 03:30' : datum.value < 296 ? '27 Nov 04:50' : '27 Nov 06:10'",
   "labelAlign":"left","labelOffset":2,"labelPadding":2,"tickSize":3,"title":null}},
 "y":{"field":"v","type":"quantitative","scale":{"domain":[-3,104.2],"nice":false,"zero":false},
  "axis":{"orient":"right","values":[0,20,30,50,70,80,100],"format":"d","tickSize":4,"labelPadding":3,"title":null}}
},
"layer":[
{"data":{"name":"levels"},"mark":{"type":"rule","color":"#B0B0B0","strokeDash":[4,3],"strokeWidth":1},
 "encoding":{"x":null,"y":{"field":"lv","type":"quantitative"}}},
{"data":{"name":"days"},"mark":{"type":"rule","color":"#FFFFFF","strokeDash":[3,3],"strokeWidth":1},
 "encoding":{"y":null}},
{"data":{"name":"osc"},"transform":[{"filter":"datum.s == 'g'"}],"mark":{"type":"line","color":"#C0C0C0","strokeWidth":1,"clip":true},"encoding":{}},
{"data":{"name":"osc"},"transform":[{"filter":"datum.s == 'n'"}],"mark":{"type":"line","color":"#90EE90","strokeWidth":1,"clip":true},"encoding":{}},
{"data":{"name":"osc"},"transform":[{"filter":"datum.s == 'm'"}],"mark":{"type":"line","color":"#EE82EE","strokeWidth":1,"clip":true},"encoding":{}},
{"data":{"values":[{"t":"YOZAWA 47.5371 41.2271 \u00a0Sto(5,3,3) 80.5986 83.0931","i":-0.375,"v":104.2}]},"mark":{"type":"text","color":"#FFFFFF","align":"left","baseline":"top","dx":4,"dy":4,"fontSize":9.5,"font":"Liberation Sans"},
 "encoding":{"text":{"field":"t","type":"nominal"}}}
]
}
]
}
